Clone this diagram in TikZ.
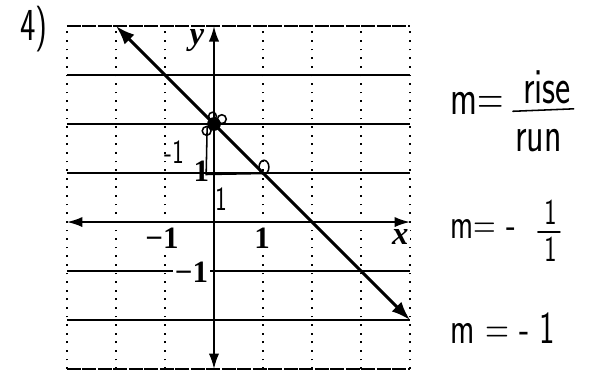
\documentclass[tikz,border=0pt]{standalone}
\usepackage{fontspec}
\setmainfont{Liberation Serif}
\usepackage{graphicx}
\usetikzlibrary{arrows.meta,positioning}
\newcommand{\hnd}[1]{\scalebox{1}[1.4]{\sffamily #1}}
\tikzset{
  gridh/.style={line width=0.7pt},
  gridv/.style={line width=0.7pt,dash pattern=on 1pt off 4pt},
  gridb/.style={line width=0.8pt,dash pattern=on 8pt off 1pt},
  axisln/.style={line width=1.1pt,{Latex[length=9pt,width=6pt]}-{Latex[length=9pt,width=6pt]}},
  slopeln/.style={line width=1.8pt,{Latex[length=11pt,width=8pt]}-{Latex[length=11pt,width=8pt]}},
  handln/.style={line width=0.9pt,line cap=round},
  tick/.style={font=\fontsize{18}{18}\selectfont\bfseries,inner sep=1pt,fill=white},
  hand/.style={font=\fontsize{21}{21}\selectfont,inner sep=0pt},
  handsm/.style={font=\fontsize{14}{14}\selectfont,inner sep=0pt},
}
\begin{document}
\begin{tikzpicture}
    \useasboundingbox (-4.367,-3.245) rectangle (7.816,4.531);

    %────────── GRID ───────────────
    \foreach \yy in {-2,-1,1,2,3} {
      \draw[gridh] (-3,\yy) -- (4,\yy);
    }
    \draw[gridb] (-3,4) -- (4,4);
    \draw[gridb] (-3,-3) -- (4,-3);
    \foreach \xx in {-3,-2,-1,1,2,3,4} {
      \draw[gridv] (\xx,-3) -- (\xx,4);
    }

    %────────── AXES ───────────────
    \coordinate (xl) at (-3,0);
    \coordinate (xr) at (4,0);
    \coordinate (yb) at (0,-3);
    \coordinate (yt) at (0,4);
    \draw[axisln] (xl) -- (xr);
    \draw[axisln] (yb) -- (yt);

    \node[tick,font=\fontsize{19}{19}\selectfont\bfseries\itshape] (ylab) at (-0.35,3.7) {y};
    \node[tick,font=\fontsize{19}{19}\selectfont\bfseries\itshape] (xlab) at (3.8,-0.3) {x};
    \node[tick] (xm1) at (-1.06,-0.33) {−1};
    \node[tick] (xp1) at (0.98,-0.33) {1};
    \node[tick] (ym1) at (-0.46,-1.02) {−1};
    \node[tick,fill=none] (yp1) at (-0.26,1.03) {1};

    %────────── LINE ───────────────
    \coordinate (lstart) at (-2,4);
    \coordinate (lend) at (4,-2);
    \draw[slopeln] (lstart) -- (lend);

    %────────── HANDWRITING ────────
    \node[hand,font=\fontsize{19}{19}\selectfont] (prob) at (-3.67,3.94) {\hnd{4)}};

    \coordinate (pa) at (0,2);
    \coordinate (pb) at (1,1);
    \fill (pa) circle (0.14);
    \draw[handln] (pa) ++(-0.15,-0.14) circle (0.09);
    \draw[handln] (pa) ++(0.16,0.1) circle (0.09);
    \draw[handln] (pa) ++(-0.03,0.16) circle (0.08);
    \draw[handln] (1.02,1.12) ellipse (0.1 and 0.14);

    \coordinate (rtop) at (-0.14,1.93);
    \coordinate (rbot) at (-0.16,0.97);
    \coordinate (rend) at (1,0.99);
    \draw[handln] (rtop) -- (rbot) -- (rend);
    \node[handsm] (rise1) at (-0.8,1.43) {\hnd{-1}};
    \node[handsm] (run1) at (0.15,0.47) {\hnd{1}};

    % m = rise / run
    \node[hand,anchor=west] (mone) at (4.82,2.43) {\hnd{m=}};
    \node[hand] (rise) at (6.80,2.75) {\hnd{rise}};
    \node[hand] (run) at (6.62,1.67) {\hnd{run}};
    \coordinate (barl) at (6.10,2.26);
    \coordinate (barr) at (7.34,2.31);
    \draw[handln] (barl) -- (barr);

    % m = -1/1
    \node[hand,anchor=west,font=\fontsize{18}{18}\selectfont] (mtwo) at (4.82,-0.14) {\hnd{m= -}};
    \node[handsm,font=\fontsize{15}{15}\selectfont] (numtwo) at (6.87,0.19) {\hnd{1}};
    \node[handsm,font=\fontsize{15}{15}\selectfont] (dentwo) at (6.87,-0.56) {\hnd{1}};
    \coordinate (bar2l) at (6.61,-0.20);
    \coordinate (bar2r) at (7.06,-0.20);
    \draw[handln] (bar2l) -- (bar2r);

    % m = -1
    \node[hand,anchor=west,font=\fontsize{19}{19}\selectfont] (mthree) at (4.82,-2.16) {\hnd{m = - 1}};
\end{tikzpicture}
\end{document}
